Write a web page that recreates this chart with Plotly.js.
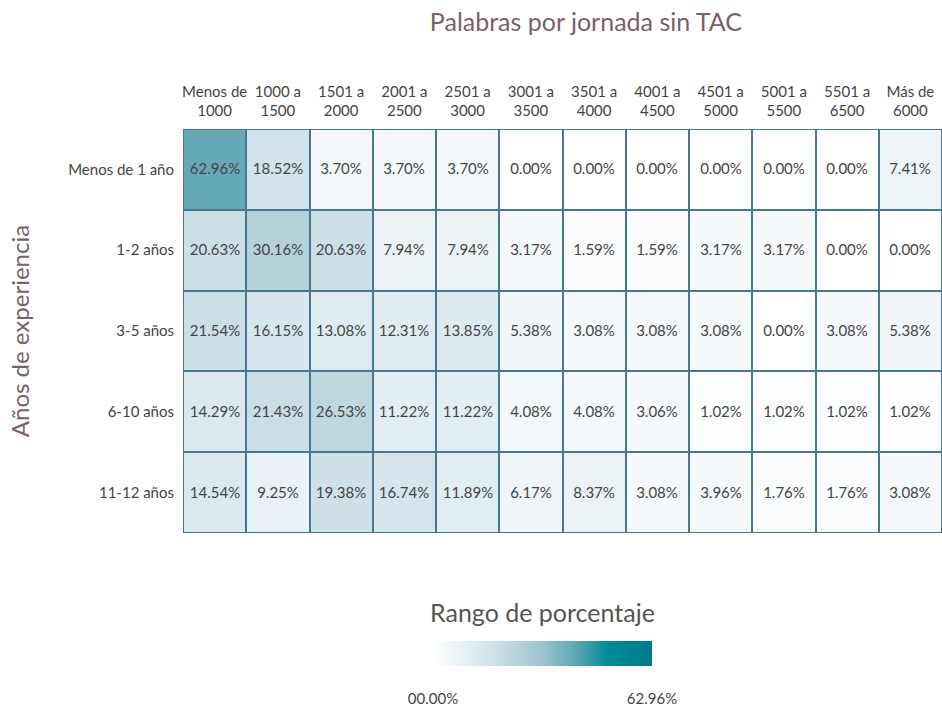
<!DOCTYPE html>
<html>
<head>
<meta charset="utf-8">
<script src="https://cdn.plot.ly/plotly-3.0.1.min.js"></script>
<style>html,body{margin:0;padding:0;background:#fff;}#chart{width:942px;height:709px;}</style>
</head>
<body>
<div id="chart"></div>
<script>
const rowLabels = ["Menos de 1 año", "1-2 años", "3-5 años", "6-10 años", "11-12 años"];
const colLabels = ["Menos de<br>1000", "1000 a<br>1500", "1501 a<br>2000", "2001 a<br>2500", "2501 a<br>3000", "3001 a<br>3500", "3501 a<br>4000", "4001 a<br>4500", "4501 a<br>5000", "5001 a<br>5500", "5501 a<br>6500", "Más de<br>6000"];
const rowMenos1 = [62.96, 18.52, 3.70, 3.70, 3.70, 0.00, 0.00, 0.00, 0.00, 0.00, 0.00, 7.41];
const row1a2 = [20.63, 30.16, 20.63, 7.94, 7.94, 3.17, 1.59, 1.59, 3.17, 3.17, 0.00, 0.00];
const row3a5 = [21.54, 16.15, 13.08, 12.31, 13.85, 5.38, 3.08, 3.08, 3.08, 0.00, 3.08, 5.38];
const row6a10 = [14.29, 21.43, 26.53, 11.22, 11.22, 4.08, 4.08, 3.06, 1.02, 1.02, 1.02, 1.02];
const row11a12 = [14.54, 9.25, 19.38, 16.74, 11.89, 6.17, 8.37, 3.08, 3.96, 1.76, 1.76, 3.08];
const zValues = [rowMenos1, row1a2, row3a5, row6a10, row11a12];
const zMin = 0, zMax = 62.96;
const barTicks = [0, 62.96];
const barTickText = ["00.00%", "62.96%"];

const FONT = "Lato, 'Open Sans', sans-serif";
const TITLE_COLOR = '#7b5f66';
const cellScale = [[0, '#ffffff'], [0.06, '#f4f8fa'], [0.15, '#e8f1f5'], [0.23, '#dbe9ee'], [0.3, '#cfe2e8'], [0.42, '#bed8df'], [0.48, '#b5d2db'], [1, '#65a8b8']];
const barScale = [[0, '#ffffff'], [0.25, '#d3e5ea'], [0.5, '#9cc4ce'], [0.65, '#5fa6b5'], [0.8, '#008c99'], [1, '#007a87']];

const legendTrace = {
  type: 'heatmap', x: colLabels, y: rowLabels, z: zValues,
  zmin: zMin, zmax: zMax, colorscale: barScale, opacity: 0, hoverinfo: 'skip',
  showscale: true,
  colorbar: {
    orientation: 'h', x: 0.4737, xanchor: 'center', lenmode: 'pixels', len: 239,
    thickness: 25, yref: 'container', y: 0.110, yanchor: 'top', outlinewidth: 0, ypad: 10, xpad: 10,
    tickvals: barTicks, ticktext: barTickText, ticks: 'outside', ticklen: 20, tickcolor: 'rgba(0,0,0,0)',
    tickfont: {family: FONT, size: 15, color: '#444444'}
  }
};
const cellTrace = {
  type: 'heatmap', x: colLabels, y: rowLabels, z: zValues,
  zmin: zMin, zmax: zMax, colorscale: cellScale, showscale: false,
  xgap: 2, ygap: 2,
  texttemplate: '%{z:.2f}%', textfont: {family: FONT, size: 15, color: '#444444'},
  hovertemplate: '%{y}<br>%{x}: %{z:.2f}%<extra></extra>'
};

const layout = {
  width: 942, height: 709,
  margin: {l: 183, r: 0, t: 129, b: 176},
  paper_bgcolor: '#ffffff', plot_bgcolor: '#4a7692',
  font: {family: FONT, color: '#444444'},
  title: {text: 'Palabras por jornada sin TAC', x: 0.622, xanchor: 'center', yref: 'container', y: 0.969, yanchor: 'middle',
    font: {family: FONT, size: 25, color: TITLE_COLOR}},
  xaxis: {side: 'top', type: 'category', showgrid: false, zeroline: false, ticks: '', ticklabelstandoff: 9,
    tickfont: {family: FONT, size: 15, color: '#444444'}, tickangle: 0},
  yaxis: {type: 'category', autorange: 'reversed', showgrid: false, zeroline: false, ticks: '', ticklabelstandoff: 8,
    tickfont: {family: FONT, size: 15, color: '#444444'},
    title: {text: 'Años de experiencia', standoff: 31, font: {family: FONT, size: 24, color: TITLE_COLOR}}},
  annotations: [{
    text: 'Rango de porcentaje', xref: 'paper', yref: 'paper', x: 0.473, y: -0.1955,
    xanchor: 'center', yanchor: 'middle', showarrow: false,
    font: {family: FONT, size: 25, color: '#555555'}
  }]
};
Plotly.newPlot('chart', [legendTrace, cellTrace], layout, {displayModeBar: false, staticPlot: true});
</script>
</body>
</html>
